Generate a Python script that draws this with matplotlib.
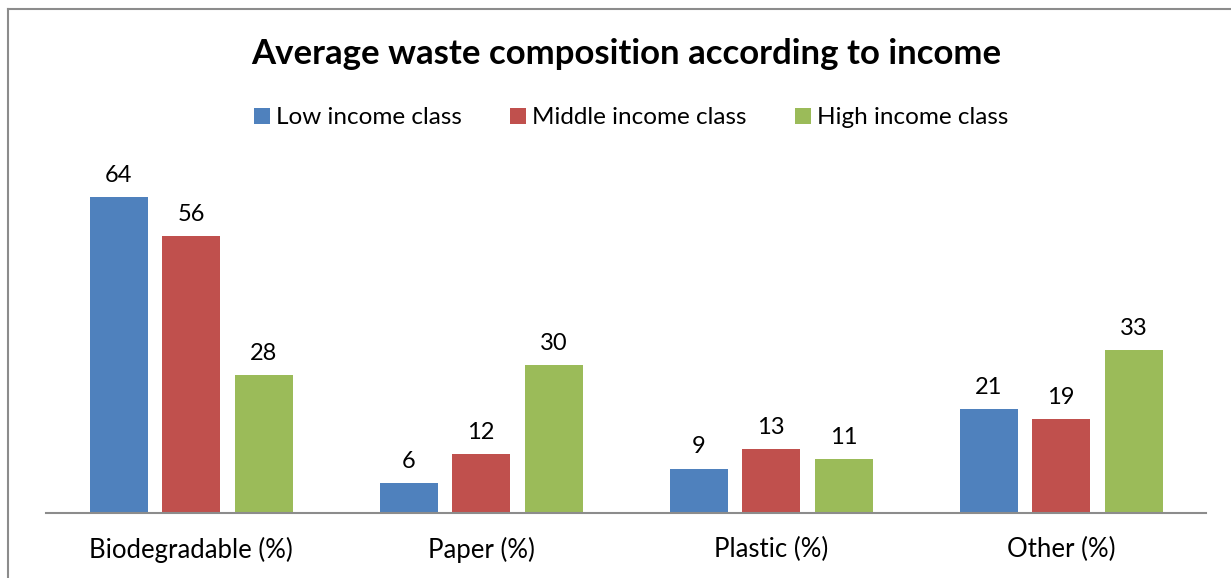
import numpy as np
import matplotlib.pyplot as plt
from matplotlib.lines import Line2D

plt.rcParams['font.family'] = ['Lato', 'DejaVu Sans']

categories = ['Biodegradable (%)', 'Paper (%)', 'Plastic (%)', 'Other (%)']
series_names = ['Low income class', 'Middle income class', 'High income class']
low = [64, 6, 9, 21]
middle = [56, 12, 13, 19]
high = [28, 30, 11, 33]
colors = ['#4F81BD', '#C0504D', '#9BBB59']

W, H = 1231, 578
fig = plt.figure(figsize=(W / 100, H / 100), dpi=100)

# plot area in pixel terms
left, right, base = 46, 1206, 513
ymax = 70
px_per_unit = 316 / 64
top = base - ymax * px_per_unit
ax = fig.add_axes([left / W, (H - base) / H, (right - left) / W, (base - top) / H])

x = np.arange(len(categories))
bw = 0.2
step = 0.25
for i, (vals, c, name) in enumerate(zip([low, middle, high], colors, series_names)):
    bars = ax.bar(x + (i - 1) * step, vals, width=bw, color=c, label=name)
    for b, v in zip(bars, vals):
        ax.annotate(str(v), (b.get_x() + b.get_width() / 2, v), xytext=(0, 8),
                    textcoords='offset points', ha='center', va='bottom', fontsize=17)

ax.set_xlim(-0.5, len(categories) - 0.5)
ax.set_ylim(0, ymax)
ax.set_xticks(x)
ax.set_xticklabels(categories, fontsize=18.5)
ax.tick_params(axis='x', length=0, pad=17)
ax.set_yticks([])
for s in ['top', 'right', 'left']:
    ax.spines[s].set_visible(False)
ax.spines['bottom'].set_color('#8C8C8C')
ax.spines['bottom'].set_linewidth(1.5)

fig.text(626 / W, 1 - 54 / H, 'Average waste composition according to income',
         ha='center', va='center', fontsize=25, fontweight='bold')

handles, labels = ax.get_legend_handles_labels()
fig.legend(handles, labels, loc='center', bbox_to_anchor=(631 / W, 1 - 118 / H),
           ncol=3, frameon=False, fontsize=17.5, handlelength=0.65, handleheight=0.65,
           handletextpad=0.25, columnspacing=2.0)

# chart frame (top and left edges)
fig.add_artist(Line2D([8 / W, 1], [1 - 9 / H, 1 - 9 / H], transform=fig.transFigure,
                      color='#8C8C8C', lw=1.5))
fig.add_artist(Line2D([8 / W, 8 / W], [0, 1 - 9 / H], transform=fig.transFigure,
                      color='#8C8C8C', lw=1.5))

fig.savefig('out.png', dpi=100)
